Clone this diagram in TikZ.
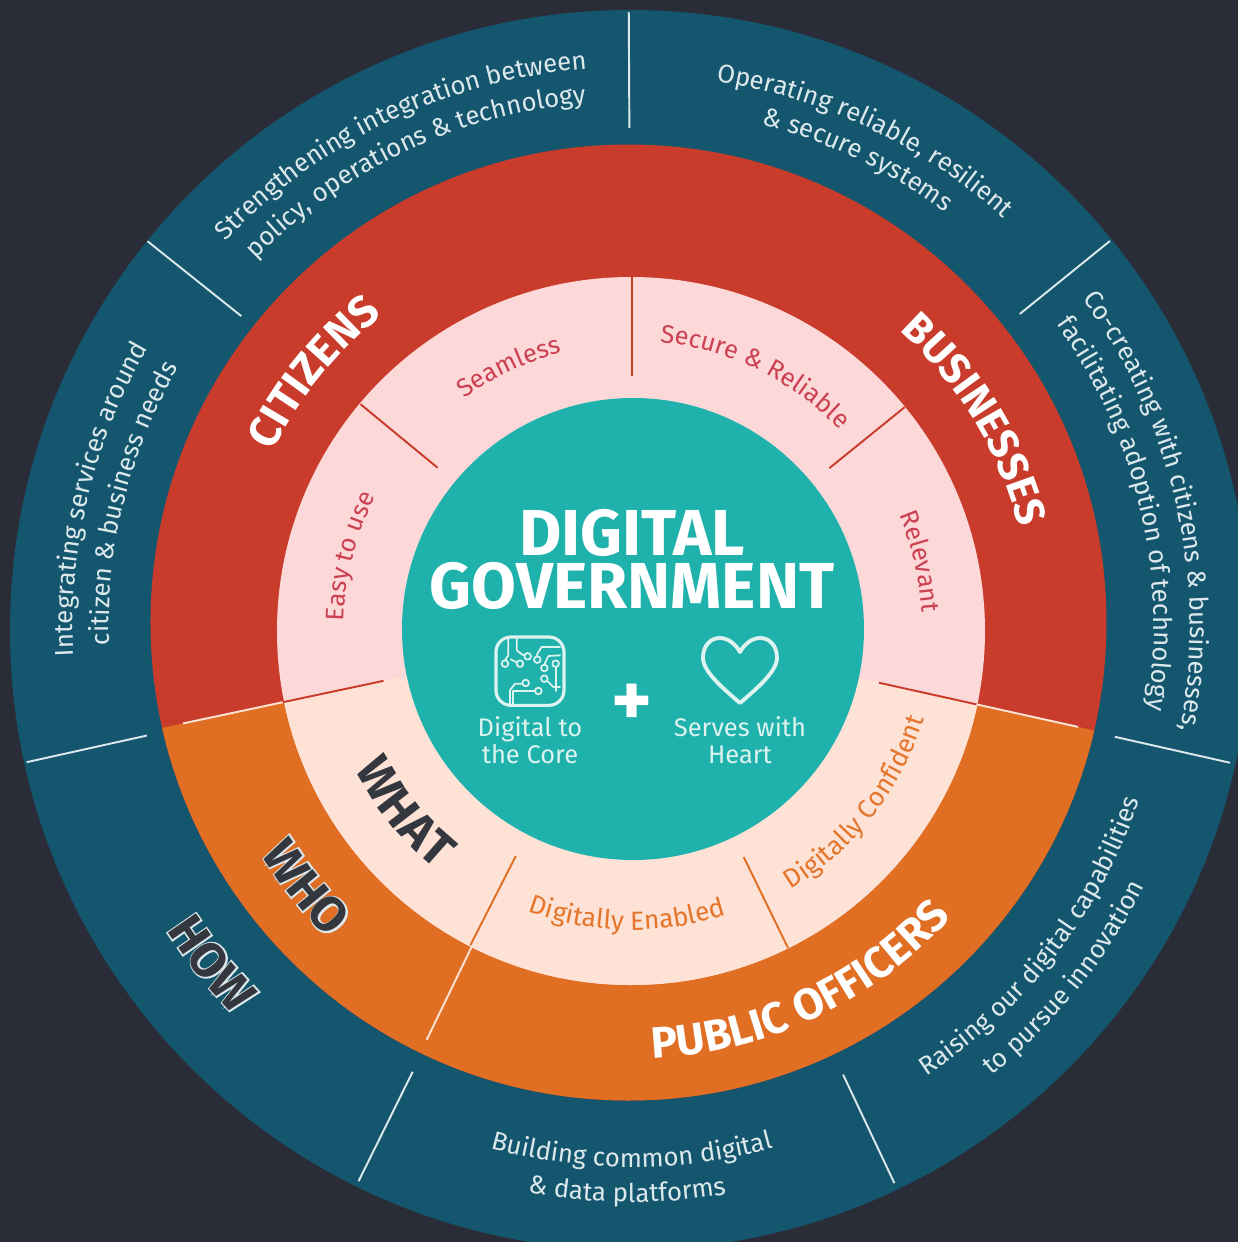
\documentclass[tikz,border=0pt]{standalone}
\usepackage{fontspec}
\usepackage{tikz}
\usetikzlibrary{decorations.text}
\setmainfont{Fira Sans}
\newfontfamily\halofam[FakeBold=6]{Fira Sans Bold}
\definecolor{bgdark}{HTML}{2A2D38}
\definecolor{howblue}{HTML}{14566E}
\definecolor{whored}{HTML}{C93B2B}
\definecolor{whoorange}{HTML}{E06F24}
\definecolor{whatpink}{HTML}{FDD8D8}
\definecolor{whatpeach}{HTML}{FDE2D5}
\definecolor{coreteal}{HTML}{1FB1AC}
\definecolor{paletxt}{HTML}{DDF3F0}
\definecolor{outertxt}{HTML}{DCE8EC}
\definecolor{pinktxt}{HTML}{CB4151}
\definecolor{peachtxt}{HTML}{E5752B}
\definecolor{darktxt}{HTML}{35373F}
\def\outerfont{\fontsize{14.7}{18}\selectfont\color{outertxt}}
\def\pinkfont{\fontsize{14.5}{18}\selectfont\color{pinktxt}}
\def\peachfont{\fontsize{15}{18}\selectfont\color{peachtxt}}
\def\headfont{\fontsize{25}{30}\selectfont\bfseries\color{white}}
\def\busfont{\fontsize{24}{30}\selectfont\bfseries\color{white}}
\def\darkfont{\fontsize{28}{32}\selectfont\bfseries\color{darktxt}}
\def\halofont{\fontsize{28}{32}\selectfont\halofam\color{outertxt}}
\def\cwtext[#1](#2:#3)#4{ \path[decorate,decoration={text along path,text align=center,text={|#1|#4}}] ({#2+75}:#3) arc ({#2+75}:{#2-75}:#3) }
\def\ccwtext[#1](#2:#3)#4{ \path[decorate,decoration={text along path,text align=center,text={|#1|#4}}] ({#2-75}:#3) arc ({#2-75}:{#2+75}:#3) }
\tikzstyle{spoke} = [line width=1.1pt]
\tikzstyle{icon} = [draw=paletxt, line width=1pt, line cap=round, line join=round]

\begin{document}
\begin{tikzpicture}[x=0.02cm,y=0.02cm]
                        \fill[bgdark] (-632,-614) rectangle (606,628);
                        \useasboundingbox (-632,-614) rectangle (606,628);

                        % rings
                        \begin{scope}
                            \clip (-632,-614) rectangle (606,628);
                            \fill[howblue] (-2,-2) circle (620);
                        \end{scope}
                        \begin{scope}
                            \clip (-3.5,5.5) circle (478);
                            \fill[whored] (-632,-614) rectangle (606,628);
                            \fill[whoorange] (0,0) -- (192:700) -- (-632,-614) -- (606,-614) -- (-12.5:700) -- cycle;
                        \end{scope}
                        \begin{scope}
                            \clip (-1,-3) circle (354);
                            \fill[whatpink] (-632,-614) rectangle (606,628);
                            \fill[whatpeach] (0,0) -- (192:700) -- (-632,-614) -- (606,-614) -- (-12.5:700) -- cycle;
                        \end{scope}
                        \fill[coreteal] (1,-1) circle (231);

                        % spokes
                        \draw[spoke,outertxt] (90.3:500) -- (90.3:616);
                        \draw[spoke,outertxt] (141.4:500) -- (141.4:620);
                        \draw[spoke,outertxt] (39:499) -- (39:615);
                        \draw[spoke,outertxt] (192.5:497) -- (192.5:620);
                        \draw[spoke,outertxt] (-12.7:495) -- (-12.7:613);
                        \draw[spoke,outertxt] (243.7:495) -- (243.7:617);
                        \draw[spoke,outertxt] (-64.7:494) -- (-64.7:614);
                        \draw[spoke,whored] (90:252) -- (90:351);
                        \draw[spoke,whored] (140.5:252) -- (140.5:352);
                        \draw[spoke,whored] (39:254) -- (39:351);
                        \draw[spoke,whored] (192:254) -- (192:357);
                        \draw[spoke,whored] (-12.5:253) -- (-12.5:353);
                        \draw[spoke,whatpeach] (192:357) -- (192:459);
                        \draw[spoke,whatpeach] (-12.5:353) -- (-12.5:457);
                        \draw[spoke,whoorange] (243:256) -- (243:356);
                        \draw[spoke,whoorange] (-64:255) -- (-64:356);
                        \draw[spoke,whatpeach] (243.3:356) -- (243.5:460);

                        % outer ring
                        \cwtext[\outerfont](115.5:561){Strengthening integration between};
                        \cwtext[\outerfont](115.3:527){policy, operations {\&} technology};
                        \cwtext[\outerfont](64.5:553){Operating reliable, resilient};
                        \cwtext[\outerfont](64.3:520){{\&} secure systems};
                        \cwtext[\outerfont](12.8:558){Co-creating with citizens {\&} businesses,};
                        \cwtext[\outerfont](13.3:522){facilitating adoption of technology};
                        \ccwtext[\outerfont](-37.7:536){Raising our digital capabilities};
                        \ccwtext[\outerfont](-39:574){to pursue innovation};
                        \ccwtext[\outerfont](-90:539){Building common digital};
                        \ccwtext[\outerfont](-90.5:574){{\&} data platforms};
                        \cwtext[\outerfont](166.4:559){Integrating services around};
                        \cwtext[\outerfont](166:523){citizen {\&} business needs};

                        % who ring
                        \cwtext[\headfont](141.2:400){CITIZENS};
                        \cwtext[\busfont](31.3:400){BUSINESSES};
                        \ccwtext[\headfont](-64.7:431){PUBLIC OFFICERS};

                        % what ring
                        \cwtext[\pinkfont](115.2:284){Seamless};
                        \cwtext[\pinkfont](64:287){Secure {\&} Reliable};
                        \cwtext[\pinkfont](13:290){Relevant};
                        \cwtext[\pinkfont](165.7:288){Easy to use};
                        \ccwtext[\peachfont](-91:302){Digitally Enabled};
                        \ccwtext[\peachfont](-38:306){Digitally Confident};

                        % row labels
                        \ccwtext[\halofont](218.6:555){HOW};
                        \ccwtext[\darkfont](218.6:555){HOW};
                        \ccwtext[\halofont](218.5:434){WHO};
                        \ccwtext[\darkfont](218.5:434){WHO};
                        \ccwtext[\darkfont](219:311){WHAT};

                        % centre
                        \node[anchor=base,text=white,font=\fontsize{37}{40}\selectfont\bfseries](digital) at (0,73) {DIGITAL};
                        \node[anchor=base,text=white,font=\fontsize{37}{40}\selectfont\bfseries](government) at (0,20) {GOVERNMENT};
                        \node[text=white,font=\fontsize{44}{48}\selectfont\bfseries](plus) at (0,-77) {+};
                        \node[anchor=base,text=paletxt,font=\fontsize{14.5}{18}\selectfont](digitalto) at (-102,-108) {Digital to};
                        \node[anchor=base,text=paletxt,font=\fontsize{14.5}{18}\selectfont](thecore) at (-102,-135) {the Core};
                        \node[anchor=base,text=paletxt,font=\fontsize{14.5}{18}\selectfont](serves) at (108,-108) {Serves with};
                        \node[anchor=base,text=paletxt,font=\fontsize{14.5}{18}\selectfont](heart) at (108,-135) {Heart};

                        % heart
                        \begin{scope}[shift={(108,-24)}]
                            \draw[draw=paletxt,line width=2.2pt,line join=round] (0,0) .. controls (5,9) and (13,14) .. (20,14) .. controls (30,14) and (37,6) .. (37,-6) .. controls (37,-20) and (15,-38) .. (0,-51) .. controls (-15,-38) and (-37,-20) .. (-37,-6) .. controls (-37,6) and (-30,14) .. (-20,14) .. controls (-13,14) and (-5,9) .. (0,0) -- cycle;
                        \end{scope}

                        % chip
                        \begin{scope}[shift={(-102,-43)},x=0.00667cm,y=-0.00667cm]
                            \draw[icon,line width=1.8pt,rounded corners=3mm] (-102,-102) rectangle (102,103);
                            \draw[icon] (-65,-97) -- (-65,-47) -- (-75,-32);
                            \draw[icon] (-75,-22) circle (10);
                            \draw[icon] (-40,-97) -- (-40,-62) -- (-20,-47);
                            \draw[icon] (-7,-44) circle (10);
                            \draw[icon] (-30,-22) circle (10);
                            \draw[icon] (-40,-26) -- (-58,-35);
                            \draw[icon] (90,-72) -- (35,-72) -- (22,-52) -- (22,-44);
                            \draw[icon] (22,-34) circle (10);
                            \draw[icon] (77,-22) circle (10);
                            \draw[icon] (77,-12) -- (77,60);
                            \draw[icon] (43,-9) circle (10);
                            \draw[icon] (43,-19) -- (55,-45) -- (90,-47);
                            \draw[icon] (-13,36) circle (10);
                            \draw[icon] (-23,38) -- (-45,38) -- (-60,58) -- (-60,98);
                            \draw[icon] (25,60) circle (10);
                            \draw[icon] (15,60) -- (-50,60) -- (-50,98);
                            \draw[icon] (43,23) circle (10);
                            \draw[icon] (53,31) -- (70,48) -- (90,48);
                        \end{scope}
                    \end{tikzpicture}
\end{document}
